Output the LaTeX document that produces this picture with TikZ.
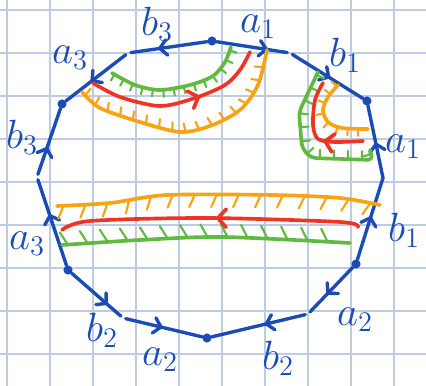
\documentclass[tikz,border=0pt]{standalone}
\usepackage{tikz}
\usetikzlibrary{arrows.meta, decorations.markings}

\definecolor{penblue}{RGB}{27,76,181}
\definecolor{penred}{RGB}{238,52,36}
\definecolor{penorange}{RGB}{248,163,20}
\definecolor{pengreen}{RGB}{96,186,64}
\definecolor{gridblue}{RGB}{190,203,225}

\tikzset{
  halfside/.style={penblue, line width=2.4pt, line cap=round,
    postaction={decorate, decoration={markings,
      mark=at position #1 with {\arrow{Straight Barb[length=5pt,width=11pt,round]}}}}},
  vdot/.style={fill=penblue, circle, inner sep=0pt, minimum size=6.5pt},
  lbl/.style={text=penblue, font=\huge, scale=1.4},
  band/.style={line width=2.6pt, line cap=round, line join=round},
  hatch/.style n args={3}{postaction={decorate, decoration={markings,
      mark=between positions 0.02 and 0.98 step #1 with {\draw[line width=1.5pt, line cap=round] (0,0) -- (#2,#3);}}}},
  midarrow/.style={postaction={decorate, decoration={markings,
      mark=at position #1 with {\arrow{Straight Barb[length=6pt,width=13pt,round]}}}}},
  gridln/.style={gridblue, line width=1pt},
}

\begin{document}
\begin{tikzpicture}[x=0.025cm, y=-0.025cm]
  \useasboundingbox (0,0) rectangle (426,386);
  \fill[white] (0,0) rectangle (426,386);

  % squared paper
  \foreach \gx in {7,50,...,394} \draw[gridln] (\gx,0) -- (\gx,386);
  \foreach \gy in {10,53,...,354} \draw[gridln] (0,\gy) -- (426,\gy);

  % corners of the polygon
  \node[vdot] (vt)  at (212,41)  {};
  \node[vdot] (vur) at (367,101) {};
  \node[vdot] (vlr) at (356,264) {};
  \node[vdot] (vb)  at (207,338) {};
  \node[vdot] (vll) at (68,270)  {};
  \node[vdot] (vul) at (62,104)  {};

  % where the sides break
  \coordinate (mtr) at (290,53);
  \coordinate (mr)  at (383,178);
  \coordinate (mbr) at (308,314);
  \coordinate (mbl) at (123,318);
  \coordinate (ml)  at (37,177);
  \coordinate (mtl) at (128,53);

  % sides, drawn along their arrows
  \draw[halfside=0.7, shorten >=2pt]  (vt) -- (mtr);
  \draw[halfside=0.55, shorten <=2pt] (mtr) -- (vur);
  \draw[halfside=0.49] (mr) -- (vur);
  \draw[halfside=0.53] (vlr) -- (mr);
  \draw[halfside=0.58, shorten >=2pt] (vlr) -- (mbr);
  \draw[halfside=0.45, shorten <=2pt] (mbr) -- (vb);
  \draw[halfside=0.5, shorten <=2pt]  (mbl) -- (vb);
  \draw[halfside=0.7, shorten >=2pt]  (vll) -- (mbl);
  \draw[halfside=0.58, shorten >=2pt] (vll) -- (ml);
  \draw[halfside=0.44, shorten <=2pt] (ml) -- (vul);
  \draw[halfside=0.6, shorten <=2pt]  (mtl) -- (vul);
  \draw[halfside=0.62, shorten >=2pt] (vt) -- (mtl);

  % side labels
  \node[lbl] (la1t) at (258,27)  {$a_1$};
  \node[lbl] (lb1t) at (345,55)  {$b_1$};
  \node[lbl] (la1r) at (403,147) {$a_1$};
  \node[lbl] (lb1r) at (404,230) {$b_1$};
  \node[lbl] (la2r) at (355,320) {$a_2$};
  \node[lbl] (lb2r) at (278,358) {$b_2$};
  \node[lbl] (la2l) at (160,360) {$a_2$};
  \node[lbl] (lb2l) at (102,330) {$b_2$};
  \node[lbl] (la3l) at (27,244)  {$a_3$};
  \node[lbl] (lb3l) at (22,137)  {$b_3$};
  \node[lbl] (la3t) at (70,58)   {$a_3$};
  \node[lbl] (lb3t) at (157,24)  {$b_3$};

  % upper left strip
  \draw[band, pengreen, hatch={2.6mm}{0pt}{-5pt}] plot[smooth] coordinates
    {(112,73) (135,85) (160,90) (190,85) (213,76) (225,62) (231,47)};
  \draw[band, penorange, hatch={3.4mm}{-1pt}{6pt}] plot[smooth] coordinates
    {(82,92) (100,108) (140,122) (180,132) (210,126) (240,110) (258,85) (267,50)};
  \draw[band, penred, midarrow=0.62] plot[smooth] coordinates
    {(93,83) (120,97) (160,106) (195,98) (225,85) (240,70) (250,52)};

  % corner strip at the right
  \draw[band, pengreen, rounded corners=4pt, hatch={3.5mm}{0pt}{6pt}]
    (318,72) -- (299,112) -- (302,148) -- (311,158) -- (373,160) -- (370,150);
  \draw[band, penorange, hatch={2.6mm}{0pt}{-5pt}] plot[smooth] coordinates
    {(338,85) (328,97) (323,110) (328,122) (342,128) (368,129)};
  \draw[band, penred, midarrow=0.38] plot[smooth] coordinates
    {(363,141) (335,142) (318,139) (313,125) (315,100) (323,83)};

  % long strip across the middle
  \draw[band, penorange, hatch={5.5mm}{-4pt}{-9pt}] plot[smooth] coordinates
    {(57,206) (110,203) (167,195) (273,195) (340,198) (380,205)};
  \draw[band, pengreen, hatch={5mm}{-5pt}{9pt}] plot[smooth] coordinates
    {(62,245) (140,240) (223,237) (350,243)};
  \draw[band, penred, midarrow=0.48] plot[smooth] coordinates
    {(358,227) (340,222) (207,218) (90,221) (62,230)};
\end{tikzpicture}
\end{document}
